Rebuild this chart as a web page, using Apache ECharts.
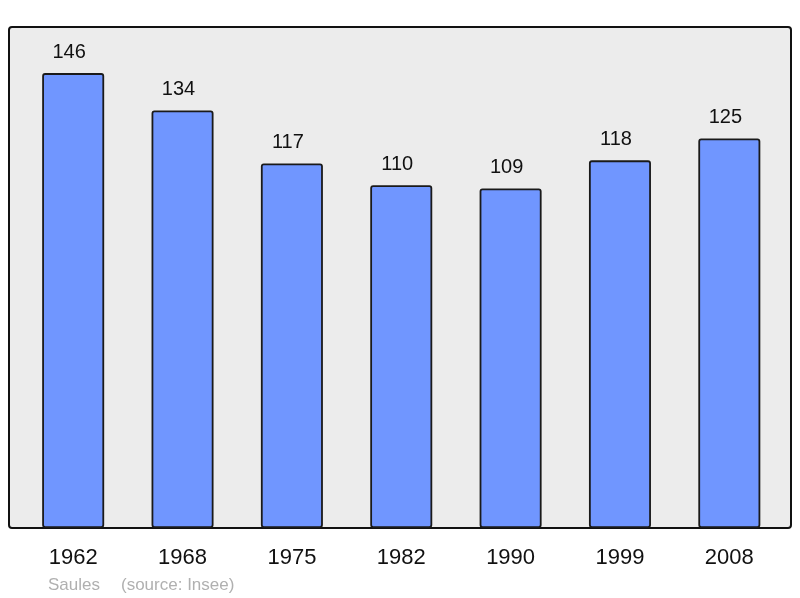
<!DOCTYPE html>
<html>
<head>
<meta charset="utf-8">
<script src="https://cdn.jsdelivr.net/npm/echarts@6/dist/echarts.min.js"></script>
<style>
  html, body { margin: 0; padding: 0; background: #fff; }
  #chart { width: 800px; height: 598px; }
</style>
</head>
<body>
<div id="chart"></div>
<script>
const years = ['1962', '1968', '1975', '1982', '1990', '1999', '2008'];
const population = [146, 134, 117, 110, 109, 118, 125];
const footerPlace = 'Saules';
const footerSource = '(source: Insee)';

const chart = echarts.init(document.getElementById('chart'));

const option = {
    animation: false,
    textStyle: { fontFamily: 'Liberation Sans, Arial, sans-serif' },
    graphic: [
        {
            type: 'rect',
            z: -10,
            shape: { x: 9, y: 27, width: 782, height: 501, r: 3 },
            style: { fill: '#ececec', stroke: '#111', lineWidth: 2 }
        },
        {
            type: 'text',
            left: 48,
            top: 577,
            style: { text: footerPlace, fill: '#b0b0b0', font: '17px Liberation Sans, Arial, sans-serif' }
        },
        {
            type: 'text',
            left: 121,
            top: 577,
            style: { text: footerSource, fill: '#b0b0b0', font: '17px Liberation Sans, Arial, sans-serif' }
        }
    ],
    grid: { left: 18.5, right: 16, top: 27, bottom: 70 },
    xAxis: {
        type: 'category',
        data: years,
        axisLine: { show: false },
        axisTick: { show: false },
        axisLabel: { color: '#111', fontSize: 22, margin: 19 }
    },
    yAxis: {
        type: 'value',
        min: 0,
        max: 160.8,
        show: false,
        splitLine: { show: false }
    },
    series: [{
        type: 'bar',
        data: population,
        barWidth: 62,
        itemStyle: {
            color: '#7096ff',
            borderColor: '#1a1a1a',
            borderWidth: 1.8,
            borderRadius: 2
        },
        label: {
            show: true,
            position: 'top',
            distance: 11,
            offset: [-4, 0],
            color: '#111',
            fontSize: 20
        }
    }]
};

chart.setOption(option);
</script>
</body>
</html>
